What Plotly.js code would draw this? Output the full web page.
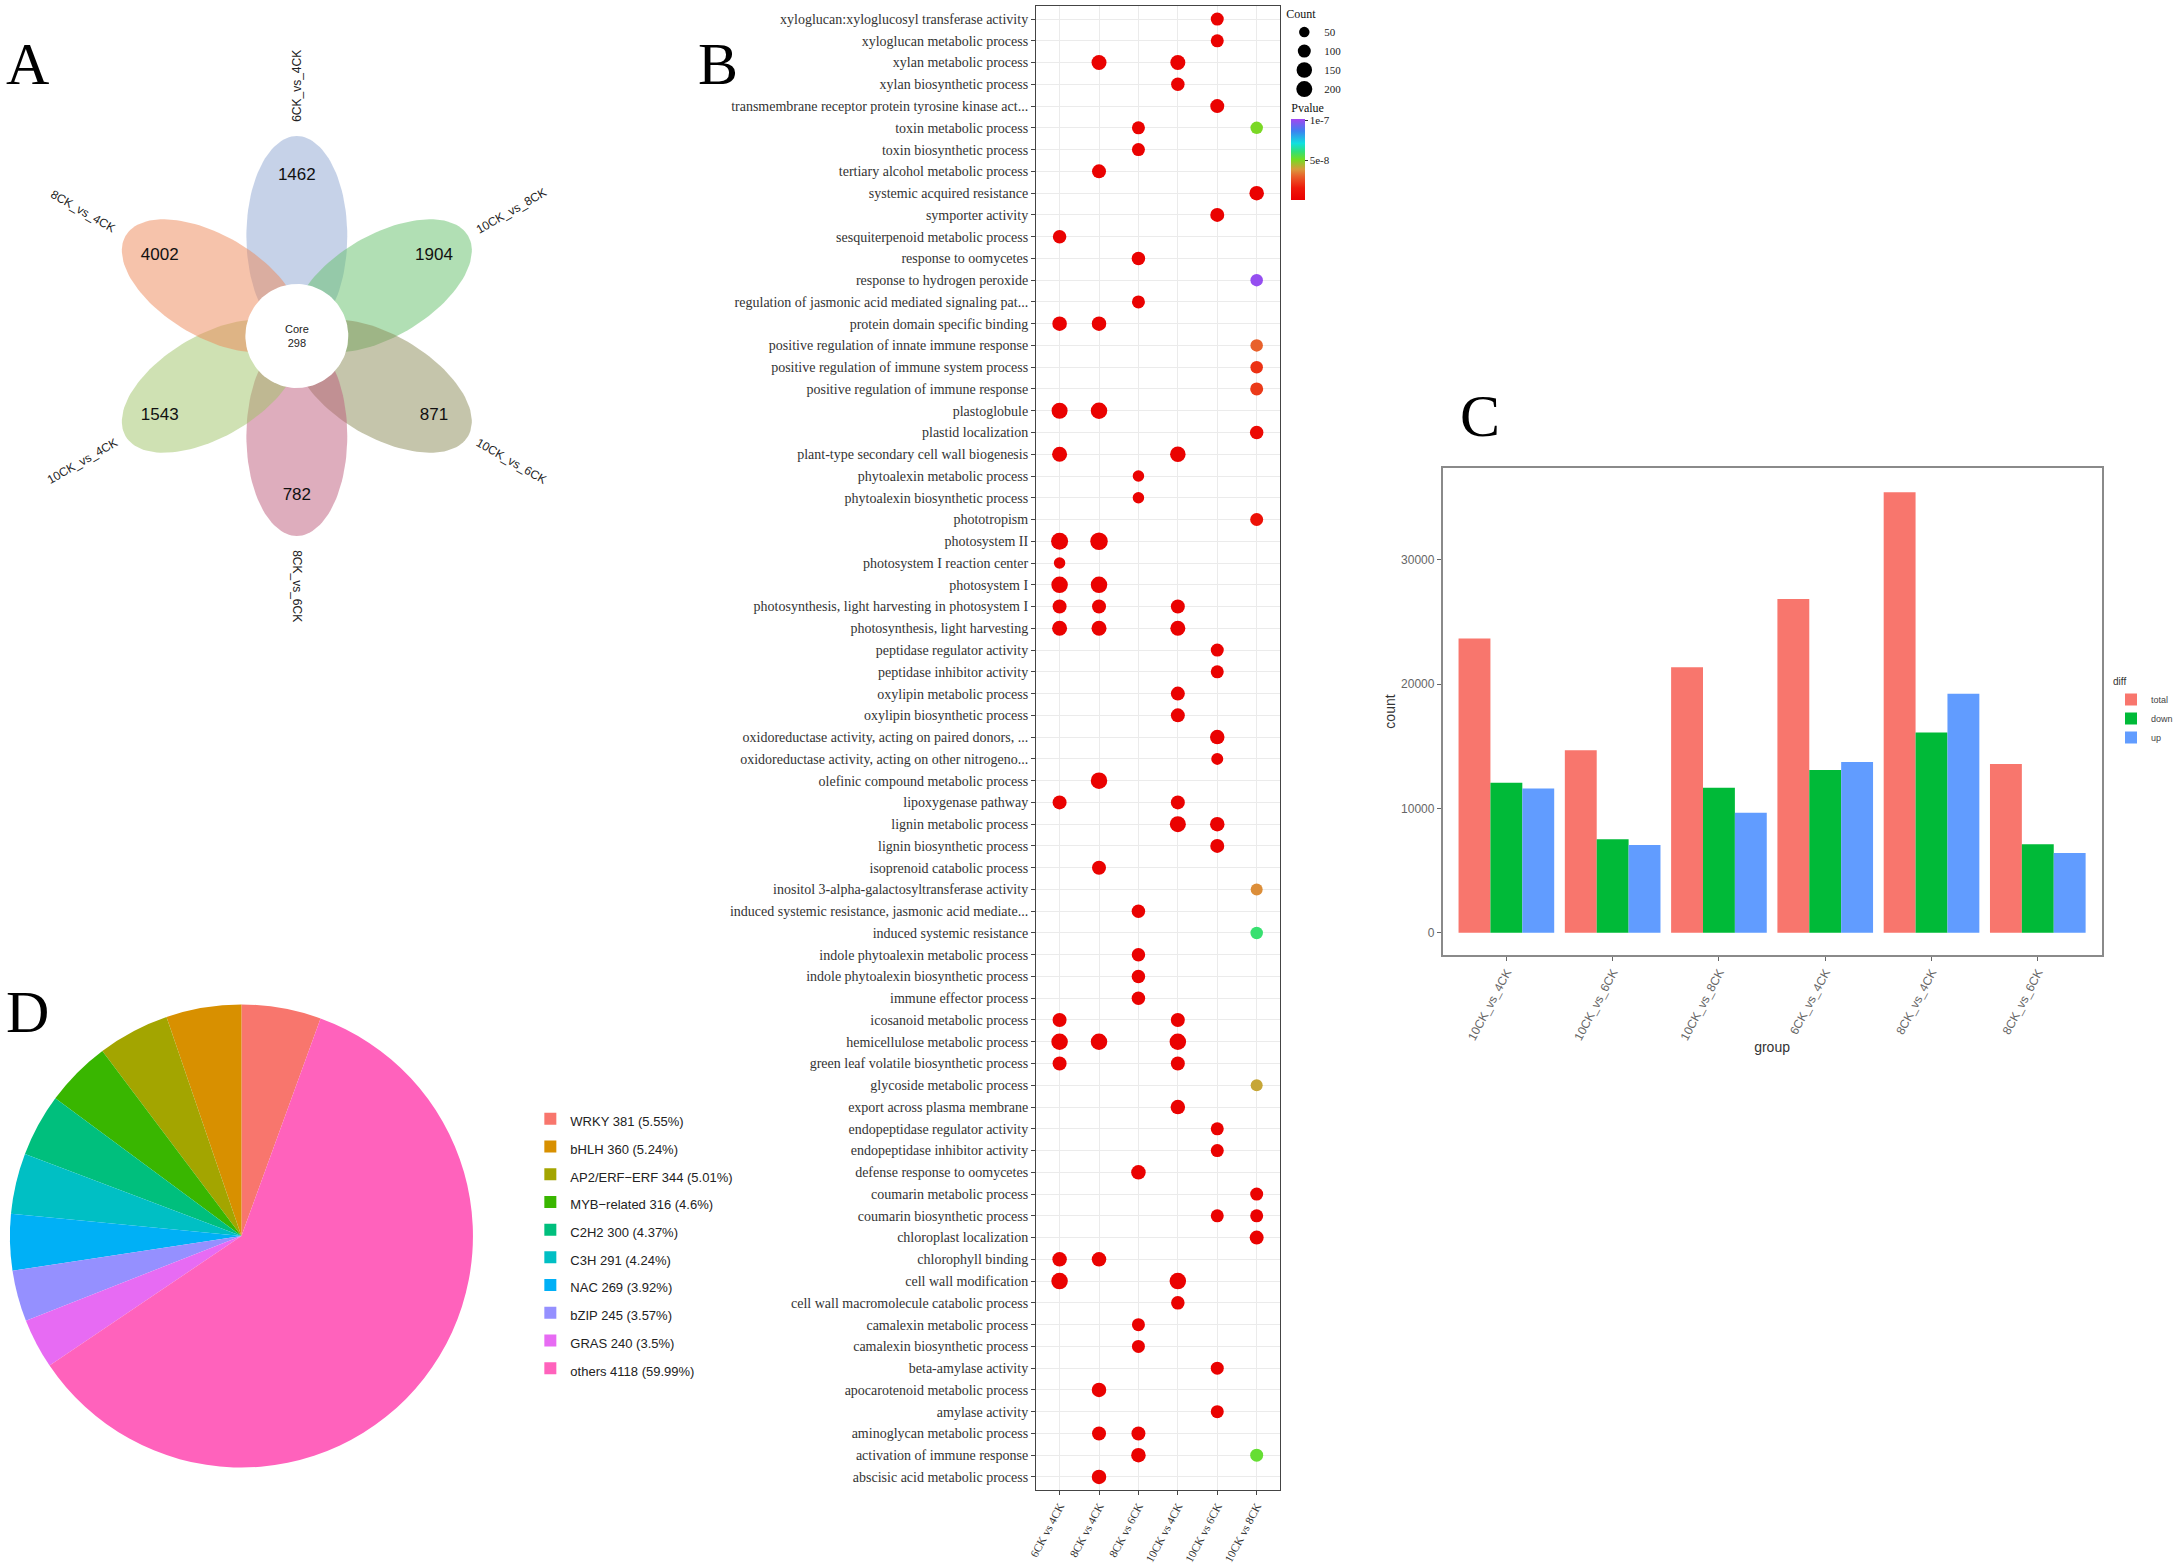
<!DOCTYPE html>
<html><head><meta charset="utf-8">
<script src="https://cdn.plot.ly/plotly-3.0.1.min.js"></script>
<style>html,body{margin:0;padding:0;background:#fff;}#chart{width:2178px;height:1563px;}</style>
</head><body><div id="chart"></div>
<script>
// ---------- Panel A: flower Venn ----------
const vennSets   = ['6CK_vs_4CK','10CK_vs_8CK','10CK_vs_6CK','8CK_vs_6CK','10CK_vs_4CK','8CK_vs_4CK'];
const vennUnique = [1462, 1904, 871, 782, 1543, 4002];
const vennCore   = 298;
const vennColors = ['rgba(141,165,209,0.5)','rgba(99,191,105,0.5)','rgba(139,139,87,0.5)',
                    'rgba(189,91,123,0.5)','rgba(159,195,103,0.5)','rgba(237,135,87,0.5)'];

// ---------- Panel B: GO enrichment dot plot ----------
const groupsB = ['6CK vs 4CK','8CK vs 4CK','8CK vs 6CK','10CK vs 4CK','10CK vs 6CK','10CK vs 8CK'];
const terms = [
 'xyloglucan:xyloglucosyl transferase activity','xyloglucan metabolic process','xylan metabolic process',
 'xylan biosynthetic process','transmembrane receptor protein tyrosine kinase act...','toxin metabolic process',
 'toxin biosynthetic process','tertiary alcohol metabolic process','systemic acquired resistance',
 'symporter activity','sesquiterpenoid metabolic process','response to oomycetes',
 'response to hydrogen peroxide','regulation of jasmonic acid mediated signaling pat...','protein domain specific binding',
 'positive regulation of innate immune response','positive regulation of immune system process','positive regulation of immune response',
 'plastoglobule','plastid localization','plant-type secondary cell wall biogenesis',
 'phytoalexin metabolic process','phytoalexin biosynthetic process','phototropism',
 'photosystem II','photosystem I reaction center','photosystem I',
 'photosynthesis, light harvesting in photosystem I','photosynthesis, light harvesting','peptidase regulator activity',
 'peptidase inhibitor activity','oxylipin metabolic process','oxylipin biosynthetic process',
 'oxidoreductase activity, acting on paired donors, ...','oxidoreductase activity, acting on other nitrogeno...','olefinic compound metabolic process',
 'lipoxygenase pathway','lignin metabolic process','lignin biosynthetic process',
 'isoprenoid catabolic process','inositol 3-alpha-galactosyltransferase activity','induced systemic resistance, jasmonic acid mediate...',
 'induced systemic resistance','indole phytoalexin metabolic process','indole phytoalexin biosynthetic process',
 'immune effector process','icosanoid metabolic process','hemicellulose metabolic process',
 'green leaf volatile biosynthetic process','glycoside metabolic process','export across plasma membrane',
 'endopeptidase regulator activity','endopeptidase inhibitor activity','defense response to oomycetes',
 'coumarin metabolic process','coumarin biosynthetic process','chloroplast localization',
 'chlorophyll binding','cell wall modification','cell wall macromolecule catabolic process',
 'camalexin metabolic process','camalexin biosynthetic process','beta-amylase activity',
 'apocarotenoid metabolic process','amylase activity','aminoglycan metabolic process',
 'activation of immune response','abscisic acid metabolic process'
];
// each enriched hit: row number (1 = top term), comparison column (1..6), gene count, p-value
const hitRow = [1,2,3,3,4,5,6,6,7,8,9,10,11,12,13,14,15,15,16,17,18,19,19,20,21,21,22,23,24,25,25,26,27,27,
  28,28,28,29,29,29,30,31,32,33,34,35,36,37,37,38,38,39,40,41,42,43,44,45,46,47,47,48,48,48,49,49,50,51,
  52,53,54,55,56,56,57,58,58,59,59,60,61,62,63,64,65,66,66,67,67,68];
const hitCol = [5,5,2,4,4,5,3,6,3,2,6,5,1,3,6,3,1,2,6,6,6,1,2,6,1,4,3,3,6,1,2,1,1,2,
  1,2,4,1,2,4,5,5,4,4,5,5,2,1,4,4,5,5,2,6,3,6,3,3,3,1,4,1,2,4,1,4,6,4,
  5,5,3,6,5,6,6,1,2,1,4,4,3,3,5,2,5,2,3,3,6,2];
const hitCount = [100,100,140,140,110,120,100,90,100,120,130,120,110,110,90,100,130,130,90,90,100,160,170,110,140,150,70,70,100,180,190,70,170,170,
  120,120,120,140,140,140,100,100,120,120,130,80,170,120,120,160,130,120,120,80,110,90,110,110,110,120,120,170,170,170,120,120,80,130,
  100,100,130,100,100,100,120,130,130,170,170,110,100,100,100,130,100,120,120,130,100,130];
const hitP = [1e-9,1e-9,1e-9,1e-9,1e-9,1e-9,1e-9,5.0e-8,1e-9,1e-9,1e-9,1e-9,1e-9,1e-9,1.0e-7,1e-9,1e-9,1e-9,3.0e-8,2.0e-8,2.2e-8,1e-9,1e-9,6e-9,1e-9,1e-9,1e-9,1e-9,1.0e-8,1e-9,1e-9,1e-9,1e-9,1e-9,
  1e-9,1e-9,1e-9,1e-9,1e-9,1e-9,1e-9,1e-9,1e-9,1e-9,1e-9,1e-9,1e-9,1e-9,1e-9,1e-9,1e-9,1e-9,1e-9,3.7e-8,1e-9,6.0e-8,1e-9,1e-9,1e-9,1e-9,1e-9,1e-9,1e-9,1e-9,1e-9,1e-9,4.1e-8,1e-9,
  1e-9,1e-9,1e-9,1e-9,1e-9,1e-9,1e-9,1e-9,1e-9,1e-9,1e-9,1e-9,1e-9,1e-9,1e-9,1e-9,1e-9,1e-9,1e-9,1e-9,5.3e-8,1e-9];
const countLegend = [50, 100, 150, 200];
const pTicks = [5e-8, 1e-7];
const pTickText = ['5e-8', '1e-7'];

// ---------- Panel C: DEG counts ----------
const groupsC = ['10CK_vs_4CK','10CK_vs_6CK','10CK_vs_8CK','6CK_vs_4CK','8CK_vs_4CK','8CK_vs_6CK'];
const diffTotal = [23680, 14680, 21350, 26850, 35440, 13570];
const diffDown  = [12080, 7530, 11660, 13090, 16110, 7120];
const diffUp    = [11600, 7060, 9660, 13730, 19230, 6420];

// ---------- Panel D: TF families ----------
const tfNames  = ['WRKY','bHLH','AP2/ERF\u2212ERF','MYB\u2212related','C2H2','C3H','NAC','bZIP','GRAS','others'];
const tfCounts = [381, 360, 344, 316, 300, 291, 269, 245, 240, 4118];
const tfPct    = ['5.55','5.24','5.01','4.6','4.37','4.24','3.92','3.57','3.5','59.99'];
const tfColors = ['#F8766D','#D89000','#A3A500','#39B600','#00BF7D','#00BFC4','#00B0F6','#9590FF','#E76BF3','#FF62BC'];

// ================= drawing =================
const W = 2178, H = 1563;
const px = x => x / W, py = y => 1 - y / H;
const SERIF = 'Liberation Serif, Times New Roman, serif';
const SANS = 'Liberation Sans, Arial, sans-serif';
const traces = [];
const annotations = [];

// Panel A geometry (in page pixels on hidden axes x3/y3)
const C0 = [300, 336], petalA = 100, petalB = 51, coreR = 52;
vennSets.forEach((name, i) => {
  const th = (90 - 60 * i) * Math.PI / 180;
  const u = [Math.cos(th), -Math.sin(th)], v = [Math.sin(th), Math.cos(th)];
  const cx = C0[0] + petalA * u[0], cy = C0[1] + petalA * u[1];
  const xs = [], ys = [];
  for (let k = 0; k <= 120; k++) {
    const t = 2 * Math.PI * k / 120;
    xs.push(cx + petalA * Math.cos(t) * u[0] + petalB * Math.sin(t) * v[0]);
    ys.push(cy + petalA * Math.cos(t) * u[1] + petalB * Math.sin(t) * v[1]);
  }
  traces.push({type:'scatter', x:xs, y:ys, xaxis:'x3', yaxis:'y3', mode:'lines', fill:'toself',
    fillcolor: vennColors[i], line:{width:0, color:'rgba(0,0,0,0)'}, hoverinfo:'skip', showlegend:false});
  let ang = -(90 - 60 * i);
  while (ang > 90) ang -= 180;
  while (ang < -90) ang += 180;
  annotations.push({xref:'x3', yref:'y3', x: C0[0] + 250 * u[0], y: C0[1] + 250 * u[1], text: name,
    showarrow:false, textangle: ang, font:{family:SANS, size:12, color:'#222'}});
});
{
  const xs = [], ys = [];
  for (let k = 0; k <= 120; k++) { const t = 2*Math.PI*k/120; xs.push(C0[0]+coreR*Math.cos(t)); ys.push(C0[1]+coreR*Math.sin(t)); }
  traces.push({type:'scatter', x:xs, y:ys, xaxis:'x3', yaxis:'y3', mode:'lines', fill:'toself',
    fillcolor:'#ffffff', line:{width:0, color:'rgba(0,0,0,0)'}, hoverinfo:'skip', showlegend:false});
}
traces.push({type:'scatter', mode:'text', xaxis:'x3', yaxis:'y3', showlegend:false, hoverinfo:'skip',
  x: vennUnique.map((_, i) => C0[0] + 160 * Math.cos((90 - 60*i) * Math.PI/180)),
  y: vennUnique.map((_, i) => C0[1] - 160 * Math.sin((90 - 60*i) * Math.PI/180)),
  text: vennUnique.map(String), textfont:{family:SANS, size:17, color:'#111'}});
annotations.push({xref:'x3', yref:'y3', x:C0[0], y:C0[1], text:'Core<br>' + vennCore, showarrow:false,
  font:{family:SANS, size:11, color:'#222'}});

// Panel B
const sizeOf = c => 8 + 0.05 * c;
traces.push({type:'scatter', mode:'markers', xaxis:'x', yaxis:'y', showlegend:false,
  x: hitCol.map(c => groupsB[c - 1]), y: hitRow.map(r => terms[r - 1]),
  marker:{size: hitCount.map(sizeOf), opacity:1, color: hitP, cmin:0, cmax:1.02e-7, line:{width:0},
    colorscale:[[0,'#ea0000'],[0.15,'#ee1a0a'],[0.3,'#e8642c'],[0.38,'#d99a3c'],[0.5,'#72dd22'],
                [0.6,'#30e07a'],[0.7,'#10e0e0'],[0.85,'#3b82f0'],[1,'#a346f0']],
    showscale:true,
    colorbar:{title:{text:'Pvalue', side:'top', font:{family:SERIF, size:12, color:'#111'}},
      x:px(1305), xanchor:'left', y:py(100), yanchor:'top', len:100, lenmode:'pixels', thickness:14,
      outlinewidth:0, tickvals:pTicks, ticktext:pTickText, ticks:'outside', ticklen:3, tickcolor:'#333',
      tickfont:{family:SERIF, size:11, color:'#222'}, xpad:0, ypad:0}},
  hovertemplate:'%{y}<br>%{x}<extra></extra>'});
countLegend.forEach(c => traces.push({type:'scatter', mode:'markers', xaxis:'x', yaxis:'y', x:[null], y:[null],
  name:String(c), legend:'legend', marker:{size:sizeOf(c), color:'#000'}, showlegend:true}));

// Panel C
[[diffTotal,'total','#F8766D'],[diffDown,'down','#00BA38'],[diffUp,'up','#619CFF']].forEach(([vals,name,col]) => {
  traces.push({type:'bar', x:groupsC, y:vals, name:name, marker:{color:col, line:{width:0}},
    xaxis:'x2', yaxis:'y2', legend:'legend2'});
});

// Panel D
traces.push({type:'pie', values:tfCounts, sort:false, direction:'counterclockwise', rotation:0,
  labels: tfNames.map((n, i) => '<span style="font-size:13px">' + n + ' ' + tfCounts[i] + ' (' + tfPct[i] + '%)</span>'),
  marker:{colors:tfColors, line:{width:0}}, textinfo:'none', legend:'legend3',
  domain:{x:[px(10), px(478)], y:[py(1472), py(1000)]}, hoverinfo:'label+value'});

// panel letters
[['A',28,64],['B',726,64],['C',1496,416],['D',28,1012]].forEach(([t,x,y]) => annotations.push({
  xref:'paper', yref:'paper', x:px(x), y:py(y), text:t, showarrow:false, xanchor:'center', yanchor:'middle',
  font:{family:SERIF, size:60, color:'#000'}}));

const layout = {
  width:W, height:H, margin:{l:0, r:0, t:0, b:0}, paper_bgcolor:'#fff', plot_bgcolor:'#fff',
  showlegend:true, barmode:'group', bargap:0.1, bargroupgap:0,
  xaxis:{domain:[px(1047), px(1294)], anchor:'y', type:'category', categoryorder:'array', categoryarray:groupsB,
    range:[-0.6, groupsB.length - 0.4], showgrid:true, gridcolor:'#ebebeb', gridwidth:1, zeroline:false,
    showline:true, linecolor:'#444', linewidth:1, mirror:true, ticks:'outside', ticklen:4, tickcolor:'#444',
    tickangle:-62, tickfont:{family:SERIF, size:11.5, color:'#333'}},
  yaxis:{domain:[py(1490), py(6)], anchor:'x', type:'category', categoryorder:'array', categoryarray:terms,
    range:[terms.length - 0.4, -0.6], showgrid:true, gridcolor:'#ebebeb', gridwidth:1, zeroline:false,
    showline:true, linecolor:'#444', linewidth:1, mirror:true, ticks:'outside', ticklen:4, tickcolor:'#444',
    tickfont:{family:SERIF, size:14, color:'#333'}},
  xaxis2:{domain:[px(1458), px(2124)], anchor:'y2', type:'category', categoryorder:'array', categoryarray:groupsC,
    range:[-0.6, groupsC.length - 0.4], showgrid:false, zeroline:false, showline:true, linecolor:'#8a8a8a',
    linewidth:1.5, mirror:true, ticks:'outside', ticklen:4, tickcolor:'#666', tickangle:-62,
    tickfont:{family:SANS, size:12, color:'#666'},
    title:{text:'group', font:{family:SANS, size:14, color:'#333'}, standoff:0}},
  yaxis2:{domain:[py(955), py(468)], anchor:'x2', range:[-1780, 37380], tickvals:[0,10000,20000,30000],
    tickformat:'d', showgrid:false, zeroline:false, showline:true, linecolor:'#8a8a8a', linewidth:1.5, mirror:true,
    ticks:'outside', ticklen:4, tickcolor:'#666', tickfont:{family:SANS, size:12, color:'#666'},
    title:{text:'count', font:{family:SANS, size:14, color:'#333'}, standoff:2}},
  xaxis3:{domain:[0, px(600)], anchor:'y3', range:[0, 600], visible:false, fixedrange:true},
  yaxis3:{domain:[py(640), py(40)], anchor:'x3', range:[640, 40], visible:false, fixedrange:true},
  legend:{x:px(1298), y:py(2), xanchor:'left', yanchor:'top', bgcolor:'rgba(0,0,0,0)',
    title:{text:'Count', font:{family:SERIF, size:12, color:'#111'}}, font:{family:SERIF, size:11, color:'#222'},
    itemsizing:'trace'},
  legend2:{x:px(2134), y:py(672), xanchor:'left', yanchor:'top', bgcolor:'rgba(0,0,0,0)',
    title:{text:'diff', font:{family:SANS, size:10, color:'#333'}}, font:{family:SANS, size:9, color:'#444'}},
  legend3:{x:px(536), y:py(1100), xanchor:'left', yanchor:'top', bgcolor:'rgba(0,0,0,0)',
    font:{family:SANS, size:19, color:'#222'}},
  annotations: annotations
};
Plotly.newPlot('chart', traces, layout, {displayModeBar:false, responsive:false});
</script></body></html>
